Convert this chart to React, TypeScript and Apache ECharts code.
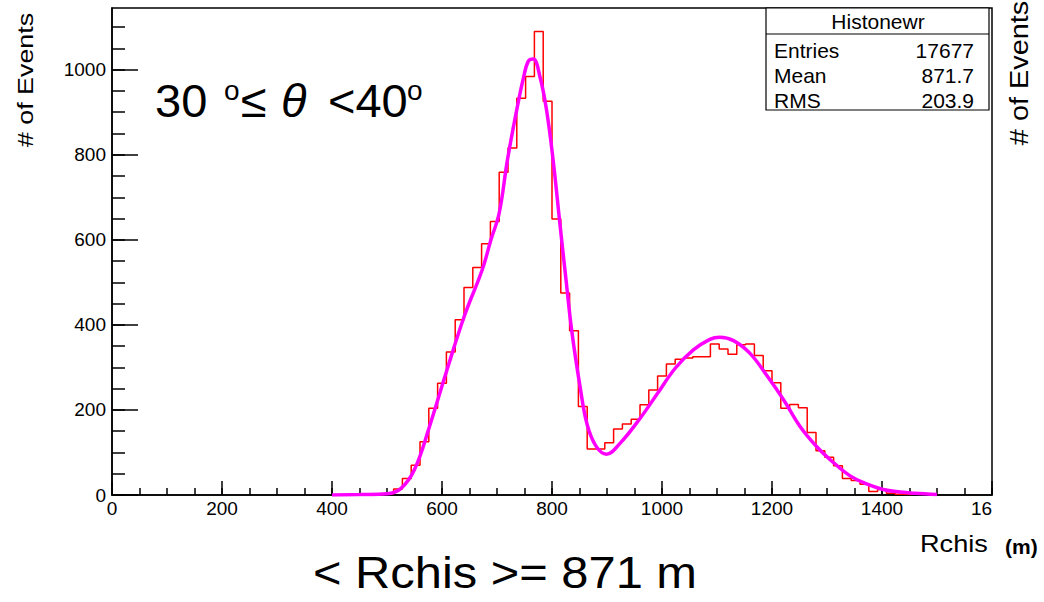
import React, { useEffect, useRef } from "react";
import * as echarts from "echarts";

// ---- data ----
const binWidth = 16;
const firstBinLow = 480;
const counts = [
  1, 3, 14, 39, 70, 125, 204, 263, 336, 412, 488, 535, 591, 643, 759, 816, 933, 984, 1090, 926,
  649, 475, 386, 208, 108, 108, 123, 155, 167, 178, 212, 247, 280, 308, 319, 322, 325, 325, 355, 343,
  331, 353, 355, 328, 292, 264, 204, 213, 205, 147, 104, 89, 69, 39, 34, 25, 8, 13, 4, 2, 1,
];
const fitX = [
  400, 450, 500, 525, 550, 577, 608, 641, 673, 689, 704, 719, 736, 748, 757, 766, 778, 790, 802, 815,
  826, 836, 851, 864, 880, 899, 924, 960, 992, 1024, 1057, 1087, 1105, 1130, 1160, 1190, 1221, 1251,
  1281, 1311, 1342, 1372, 1402, 1433, 1460, 1500,
];
const fitY = [
  0, 1, 3, 15, 60, 160, 290, 422, 529, 600, 663, 788, 906, 980, 1020, 1025, 984, 906, 788, 630,
  500, 385, 255, 165, 115, 96, 122, 180, 239, 298, 341, 366, 371, 363, 333, 282, 224, 161,
  114, 77, 45, 26, 13, 7, 4, 1,
];
const xMajorTicks = [0, 200, 400, 600, 800, 1000, 1200, 1400, 1600];
const xMinorTicks = [
  0, 50, 100, 150, 200, 250, 300, 350, 400, 450, 500, 550, 600, 650, 700, 750, 800, 850, 900, 950,
  1000, 1050, 1100, 1150, 1200, 1250, 1300, 1350, 1400, 1450, 1500, 1550, 1600,
];
const yMajorTicks = [0, 200, 400, 600, 800, 1000];
const yMinorTicks = [
  0, 50, 100, 150, 200, 250, 300, 350, 400, 450, 500, 550, 600, 650, 700, 750, 800, 850, 900, 950,
  1000, 1050, 1100,
];
const statsTitle = "Histonewr";
const statsNames = ["Entries", "Mean", "RMS"];
const statsValues = ["17677", "871.7", "203.9"];

const FONT = '"Liberation Sans", Arial, Helvetica, sans-serif';

function txt(text: string, x: number, y: number, size: number, extra: any = {}, el: any = {}) {
  const align = extra.align || "left";
  const va = extra.verticalAlign || "middle";
  return {
    type: "text",
    x,
    y,
    z: 100,
    ...el,
    style: {
      text,
      x: 0,
      y: 0,
      fontSize: size,
      fontFamily: FONT,
      fontWeight: extra.fontWeight || "normal",
      fontStyle: extra.fontStyle || "normal",
      fill: "#000",
      align,
      verticalAlign: va,
      textAlign: align,
      textVerticalAlign: va,
    },
  };
}

export default function App() {
  const ref = useRef<HTMLDivElement>(null);
  useEffect(() => {
    if (!ref.current) return;
    const chart = echarts.init(ref.current, null, { renderer: "svg" });
    const histData: number[][] = [[firstBinLow, 0]];
    counts.forEach((c, i) => histData.push([firstBinLow + i * binWidth, c]));
    histData.push([firstBinLow + counts.length * binWidth, 0]);
    const fitData = fitX.map((x, i) => [x, fitY[i]]);

    const axisLineStyle = { color: "#000", width: 1.5 };
    const statsRows: any[] = [];
    statsNames.forEach((n, i) => {
      statsRows.push(txt(n, 774, 50.5 + i * 25.3, 20, {}, { scaleX: 1.05 }));
      statsRows.push(txt(statsValues[i], 974, 50.5 + i * 25.3, 20, { align: "right" }, { scaleX: 1.05 }));
    });

    chart.setOption({
      animation: false,
      backgroundColor: "#fff",
      grid: {
        left: 112,
        right: 52,
        top: 8,
        bottom: 107,
        show: true,
        borderColor: "#000",
        borderWidth: 1.5,
        backgroundColor: "transparent",
        containLabel: false,
        outerBoundsMode: "none",
      },
      xAxis: [
        {
          type: "value",
          min: 0,
          max: 1600,
          position: "bottom",
          axisLine: { show: true, lineStyle: axisLineStyle },
          axisTick: { show: true, inside: true, length: 14, customValues: xMajorTicks, lineStyle: axisLineStyle },
          axisLabel: {
            customValues: xMajorTicks,
            fontSize: 19,
            fontFamily: FONT,
            color: "#000",
            margin: 4,
            formatter: (v: number) => (v === 1600 ? "{c|16}" : String(v)),
            rich: { c: { fontSize: 19, fontFamily: FONT, color: "#000", padding: [0, 21, 0, 0] } },
          },
          splitLine: { show: false },
        },
        {
          type: "value",
          min: 0,
          max: 1600,
          position: "bottom",
          axisLine: { show: false },
          axisTick: { show: true, inside: true, length: 7, customValues: xMinorTicks, lineStyle: axisLineStyle },
          axisLabel: { show: false },
          splitLine: { show: false },
        },
      ],
      yAxis: [
        {
          type: "value",
          min: 0,
          max: 1145,
          position: "left",
          axisLine: { show: true, lineStyle: axisLineStyle },
          axisTick: { show: true, inside: true, length: 26, customValues: yMajorTicks, lineStyle: axisLineStyle },
          axisLabel: {
            customValues: yMajorTicks,
            fontSize: 19,
            fontFamily: FONT,
            color: "#000",
            margin: 6,
            formatter: (v: number) => String(v),
          },
          splitLine: { show: false },
        },
        {
          type: "value",
          min: 0,
          max: 1145,
          position: "left",
          axisLine: { show: false },
          axisTick: { show: true, inside: true, length: 13, customValues: yMinorTicks, lineStyle: axisLineStyle },
          axisLabel: { show: false },
          splitLine: { show: false },
        },
      ],
      series: [
        {
          name: "Histonewr",
          type: "line",
          step: "end",
          xAxisIndex: 0,
          yAxisIndex: 0,
          data: histData,
          symbol: "none",
          lineStyle: { color: "#ff0000", width: 1.5 },
          z: 2,
        },
        {
          name: "fit",
          type: "line",
          smooth: 0.4,
          xAxisIndex: 0,
          yAxisIndex: 0,
          data: fitData,
          symbol: "none",
          lineStyle: { color: "#ff00ff", width: 3.5 },
          z: 3,
        },
      ],
      graphic: [
        // title
        txt("30", 155, 100, 47),
        txt("o", 224, 90, 28),
        txt("≤", 241, 100, 47),
        txt("θ", 281, 100, 47, { fontStyle: "italic" }),
        txt("<40", 328, 100, 47),
        txt("o", 407, 90, 28),
        // bottom text
        txt("< Rchis >= 871 m", 313, 573, 44, {}, { scaleX: 1.11 }),
        // x axis title
        txt("Rchis", 920, 543.6, 23, {}, { scaleX: 1.18 }),
        txt("(m)", 1005, 547, 20, { fontWeight: "bold" }, { scaleX: 1.05 }),
        // y axis titles
        txt("# of Events", 25.3, 80, 22, { align: "center" }, { rotation: Math.PI / 2, scaleX: 1.22 }),
        txt("# of Events", 1019, 73, 26, { align: "center" }, { rotation: Math.PI / 2, scaleX: 1.11 }),
        // stats box
        {
          type: "rect",
          z: 90,
          shape: { x: 766, y: 8, width: 223, height: 102 },
          style: { fill: "#fff", stroke: "#000", lineWidth: 1.2 },
        },
        {
          type: "line",
          z: 91,
          shape: { x1: 766, y1: 34, x2: 989, y2: 34 },
          style: { stroke: "#000", lineWidth: 1.2 },
        },
        txt(statsTitle, 878, 21.5, 20, { align: "center" }, { scaleX: 1.05 }),
        ...statsRows,
      ],
    });
    return () => chart.dispose();
  }, []);
  return (
    <div
      ref={ref}
      style={{ position: "absolute", left: 0, top: 0, width: 1044, height: 602, background: "#fff" }}
    />
  );
}
